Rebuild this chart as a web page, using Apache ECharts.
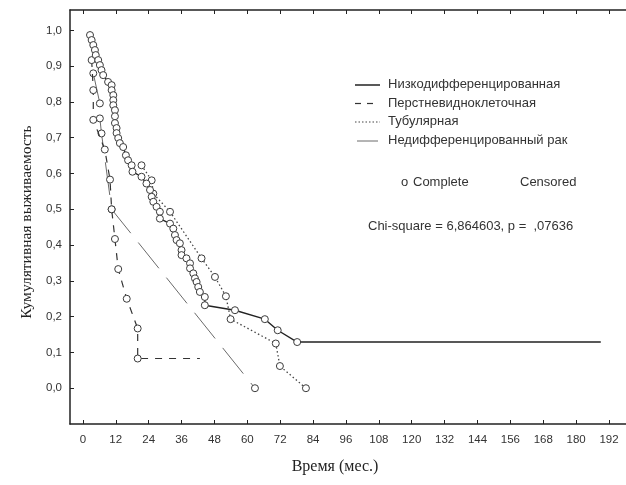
<!DOCTYPE html>
<html lang="ru">
<head>
	<meta charset="UTF-8">
	<title>Кумулятивная выживаемость</title>
	<style>
		html, body { margin: 0; padding: 0; background: #fff; }
	</style>
</head>
<body>
	<div id="main" style="width: 626px;height: 485px"></div>
	<script src="https://cdn.jsdelivr.net/npm/echarts@6/dist/echarts.min.js"></script>
	<script>
		// тики осей
		var xTicks = [0, 12, 24, 36, 48, 60, 72, 84, 96, 108, 120, 132, 144, 156, 168, 180, 192]
		var yTicks = [0, 0.1, 0.2, 0.3, 0.4, 0.5, 0.6, 0.7, 0.8, 0.9, 1.0]

		// Низкодифференцированная
		var lowMonths = [2.6, 3.2, 3.8, 4.4, 4.7, 5.6, 6.2, 6.8, 7.4, 9.2, 10.5, 10.5, 11.1, 11.1, 11.1, 11.7, 11.7, 11.7,
			12.3, 12.3, 12.9, 13.5, 14.7, 15.7, 16.5, 17.8, 18.1, 21.4, 23.2, 24.5, 25.1, 25.7, 26.9, 28.1, 28.1,
			31.8, 33.0, 33.6, 34.2, 35.4, 36.0, 36.0, 37.8, 39.1, 39.1, 40.3, 40.9, 41.5, 42.1, 42.7, 44.5, 44.5,
			55.5, 66.4, 71.1, 78.2]
		var lowSurv = [0.987, 0.973, 0.959, 0.945, 0.931, 0.917, 0.903, 0.889, 0.875, 0.856, 0.847, 0.833, 0.819, 0.805, 0.791, 0.777, 0.760, 0.741,
			0.727, 0.713, 0.699, 0.685, 0.674, 0.651, 0.637, 0.623, 0.605, 0.591, 0.572, 0.554, 0.535, 0.521, 0.507, 0.493, 0.474,
			0.460, 0.446, 0.428, 0.414, 0.405, 0.386, 0.372, 0.363, 0.349, 0.335, 0.321, 0.307, 0.297, 0.283, 0.269, 0.255, 0.232,
			0.218, 0.193, 0.162, 0.129]
		var lowTail = [189, 0.129]

		// Перстневидноклеточная
		var ringMonths = [3.2, 3.8, 3.8, 8.0, 9.9, 10.5, 11.7, 12.9, 16.0, 20.0, 20.0]
		var ringSurv = [0.917, 0.833, 0.750, 0.667, 0.583, 0.500, 0.417, 0.333, 0.250, 0.167, 0.083]
		var ringTail = [42.7, 0.083]

		// Тубулярная
		var tubMonths = [21.4, 25.1, 25.7, 31.8, 43.3, 48.2, 52.2, 53.9, 70.4, 71.9, 81.4]
		var tubSurv = [0.623, 0.581, 0.544, 0.493, 0.363, 0.311, 0.257, 0.193, 0.125, 0.062, 0.0]

		// Недифференцированный рак
		var undiffMonths = [3.8, 6.2, 6.2, 6.8, 10.5, 62.8]
		var undiffSurv = [0.880, 0.796, 0.754, 0.712, 0.500, 0.0]

		var legendNames = ['Низкодифференцированная', 'Перстневидноклеточная', 'Тубулярная', 'Недифференцированный рак']

		function zip(ms, vs, tail) {
			var out = ms.map(function (m, i) { return [m, vs[i]] })
			if (tail) out.push({ value: tail, symbol: 'none' })
			return out
		}

		function fmtY(v) { return v.toFixed(1).replace('.', ',') }

		var circle = { color: '#fff', borderColor: '#3a3a3a', borderWidth: 1 }
		var txt = { fontFamily: 'Liberation Sans', fontSize: 13, fill: '#333' }

		function serie(name, data, lineStyle, z) {
			return {
				name: name, type: 'line', data: data, symbol: 'circle', symbolSize: 7,
				showAllSymbol: true, itemStyle: circle, lineStyle: lineStyle, z: z,
				emphasis: { disabled: true }, animation: false
			}
		}

		var myChart = echarts.init(document.getElementById('main'))
		var option = {
			animation: false,
			grid: { left: 70, top: 10, right: 0, bottom: 61, containLabel: false },
			xAxis: [{
				type: 'value', min: -4.7, max: 198.2,
				axisLine: { show: true, onZero: false, lineStyle: { color: '#222', width: 1.5 } },
				axisTick: { inside: true, length: 4, customValues: xTicks, lineStyle: { color: '#222' } },
				axisLabel: { customValues: xTicks, margin: 10, fontFamily: 'Liberation Sans', fontSize: 11.5, color: '#333' },
				splitLine: { show: false }
			}, {
				type: 'value', position: 'top', min: -4.7, max: 198.2,
				axisLine: { show: true, onZero: false, lineStyle: { color: '#222', width: 1.5 } },
				axisTick: { inside: true, length: 4, customValues: xTicks, lineStyle: { color: '#222' } },
				axisLabel: { show: false },
				splitLine: { show: false }
			}],
			yAxis: {
				type: 'value', min: -0.1, max: 1.057,
				axisLine: { show: true, onZero: false, lineStyle: { color: '#222', width: 1.5 } },
				axisTick: { inside: true, length: 4, customValues: yTicks, lineStyle: { color: '#222' } },
				axisLabel: { customValues: yTicks, margin: 8, formatter: fmtY, fontFamily: 'Liberation Sans', fontSize: 11.5, color: '#333' },
				splitLine: { show: false }
			},
			series: [
				serie(legendNames[3], zip(undiffMonths, undiffSurv), { color: '#6a6a6a', width: 1, type: [33, 12] }, 2),
				serie(legendNames[1], zip(ringMonths, ringSurv, ringTail), { color: '#333', width: 1.2, type: [7, 7] }, 3),
				serie(legendNames[2], zip(tubMonths, tubSurv), { color: '#444', width: 1.3, type: [1.5, 2.5] }, 4),
				serie(legendNames[0], zip(lowMonths, lowSurv, lowTail), { color: '#222', width: 1.4 }, 5)
			],
			graphic: [
				// легенда
				{ type: 'line', shape: { x1: 355, y1: 85, x2: 380, y2: 85 }, style: { stroke: '#222', lineWidth: 1.5 } },
				{ type: 'line', shape: { x1: 355, y1: 103.5, x2: 373, y2: 103.5 }, style: { stroke: '#333', lineWidth: 1.2, lineDash: [6, 6] } },
				{ type: 'line', shape: { x1: 355, y1: 122, x2: 380, y2: 122 }, style: { stroke: '#444', lineWidth: 1.2, lineDash: [1.5, 2] } },
				{ type: 'line', shape: { x1: 357, y1: 141, x2: 378, y2: 141 }, style: { stroke: '#6a6a6a', lineWidth: 1 } },
				{ type: 'text', left: 388, top: 78, style: Object.assign({ text: legendNames[0] }, txt) },
				{ type: 'text', left: 388, top: 96.5, style: Object.assign({ text: legendNames[1] }, txt) },
				{ type: 'text', left: 388, top: 115, style: Object.assign({ text: legendNames[2] }, txt) },
				{ type: 'text', left: 388, top: 134, style: Object.assign({ text: legendNames[3] }, txt) },
				{ type: 'text', left: 401, top: 176, style: Object.assign({ text: 'o' }, txt) },
				{ type: 'text', left: 413, top: 176, style: Object.assign({ text: 'Complete' }, txt) },
				{ type: 'text', left: 520, top: 176, style: Object.assign({ text: 'Censored' }, txt) },
				{ type: 'text', left: 368, top: 220, style: Object.assign({ text: 'Chi-square = 6,864603, p =  ,07636' }, txt) },
				// подписи осей
				{ type: 'text', x: 335, y: 467, style: { text: 'Время (мес.)', fontFamily: 'Liberation Serif', fontSize: 16, fill: '#222', align: 'center', verticalAlign: 'middle' } },
				{ type: 'text', x: 27, y: 222, rotation: Math.PI / 2, style: { text: 'Кумулятивная выживаемость', fontFamily: 'Liberation Serif', fontSize: 15.5, fill: '#222', align: 'center', verticalAlign: 'middle' } }
			]
		}
		myChart.setOption(option)
	</script>
</body>
</html>
